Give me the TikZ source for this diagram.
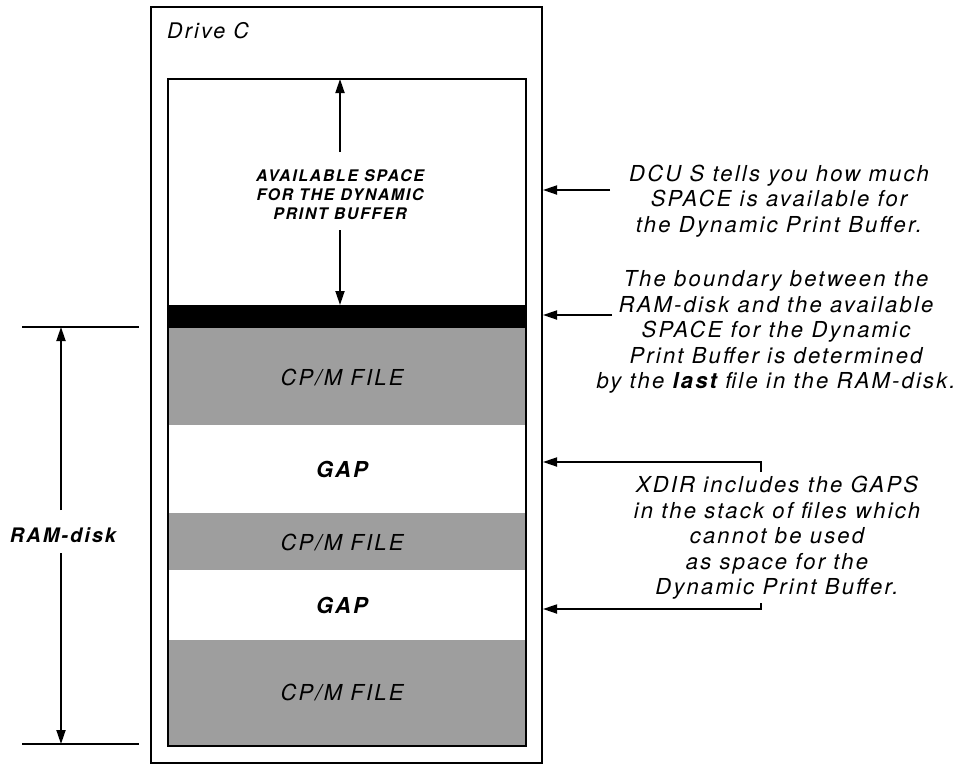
\documentclass[tikz,border=0pt]{standalone}
\usepackage{fontspec}
\setmainfont{TeX Gyre Heros}
\newfontfamily\hv[LetterSpace=10]{TeX Gyre Heros}
\usetikzlibrary{arrows.meta}
\definecolor{filegray}{RGB}{158,158,158}
\begin{document}
\begin{tikzpicture}[x=1pt,y=-1pt,
  arr/.style={line width=1.8pt,-{Triangle[length=14pt,width=9pt]}},
  note/.style={font=\hv\itshape\fontsize{22}{25.5}\selectfont, align=center, inner sep=0pt},
  filelabel/.style={font=\hv\itshape\fontsize{22}{26}\selectfont, inner sep=0pt},
  gaplabel/.style={font=\hv\bfseries\itshape\fontsize{22}{26}\selectfont, inner sep=0pt},
  availlabel/.style={font=\hv\bfseries\itshape\fontsize{16}{19}\selectfont, align=center, inner sep=0pt},
  dimline/.style={line width=1.8pt}]
\useasboundingbox (0,0) rectangle (966,764);
\fill[white] (0,0) rectangle (966,764);
% outer box (Drive C)
\node[draw, line width=2pt, minimum width=391pt, minimum height=756pt, anchor=north west, inner sep=0pt] (drive) at (150,6) {};
\node[font=\hv\itshape\fontsize{21.5}{24}\selectfont, anchor=base west, inner sep=0pt] (drivelabel) at (167,38) {Drive C};
% bands
\fill[black] (168,305) rectangle (526,328);
\fill[filegray] (168,328) rectangle (526,425);
\fill[filegray] (168,513) rectangle (526,570);
\fill[filegray] (168,640) rectangle (526,746);
% inner box
\node[draw, line width=2.3pt, minimum width=358pt, minimum height=667pt, anchor=north west, inner sep=0pt, outer sep=0pt] (disk) at (168,79) {};
% labels
\node[availlabel] (avail) at (340,195) {AVAILABLE SPACE\\FOR THE DYNAMIC\\PRINT BUFFER};
\node[filelabel] (cpm1) at (342,377) {CP/M FILE};
\node[gaplabel] (gap1) at (342,469) {GAP};
\node[filelabel] (cpm2) at (342,542) {CP/M FILE};
\node[gaplabel] (gap2) at (342,605) {GAP};
\node[filelabel] (cpm3) at (342,692) {CP/M FILE};
% available space arrows
\coordinate (upt) at (340,152);
\coordinate (dnt) at (340,230);
\coordinate (bar) at (340,305);
\draw[arr] (upt) -- (upt |- disk.north);
\draw[arr] (dnt) -- (bar);
% RAM-disk dimension
\coordinate (dtl) at (22,327);
\coordinate (dtr) at (139,327);
\coordinate (dbl) at (22,744);
\coordinate (dbr) at (139,744);
\draw[dimline] (dtl) -- (dtr);
\draw[dimline] (dbl) -- (dbr);
\node[font=\hv\bfseries\itshape\fontsize{20}{24}\selectfont, inner sep=0pt] (ram) at (63,535) {RAM-disk};
\coordinate (ramtop) at (61,510);
\coordinate (rambot) at (61,553);
\draw[arr] (ramtop) -- (61,327);
\draw[arr] (rambot) -- (61,744);
% right notes
\node[note] (n1) at (779,201) {DCU S tells you how much\\SPACE is available for\\the Dynamic Print Buffer.};
\node[note] (n2) at (776,332) {The boundary between the\\RAM-disk and the available\\SPACE for the Dynamic\\Print Buffer is determined\\by the {\bfseries last} file in the RAM-disk.};
\node[note] (n3) at (777,538) {XDIR includes the GAPS\\in the stack of files which\\cannot be used\\as space for the\\Dynamic Print Buffer.};
% right arrows
\coordinate (a1) at (610,190);
\coordinate (a2) at (612,315);
\coordinate (a3) at (761,472);
\coordinate (a3c) at (761,462);
\coordinate (a4) at (761,603);
\coordinate (a4c) at (761,609);
\draw[arr] (a1) -- (a1 -| drive.east);
\draw[arr] (a2) -- (a2 -| drive.east);
\draw[arr] (a3) -- (a3c) -- (a3c -| drive.east);
\draw[arr] (a4) -- (a4c) -- (a4c -| drive.east);
\end{tikzpicture}
\end{document}
